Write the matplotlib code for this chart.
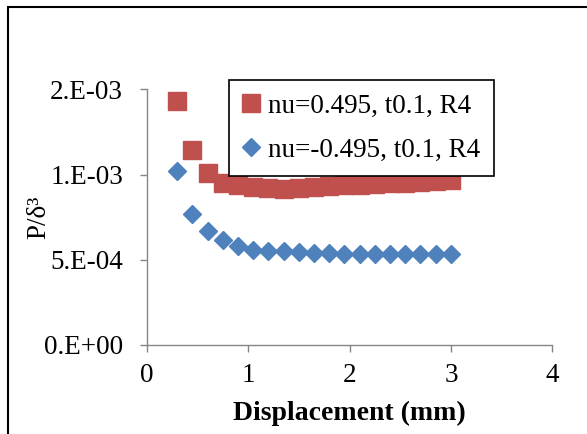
import matplotlib
matplotlib.use("Agg")
import matplotlib.pyplot as plt
from matplotlib.patches import Rectangle
from matplotlib.ticker import FuncFormatter

# displacement (mm) and P/delta^3
disp = [0.3, 0.45, 0.6, 0.75, 0.9, 1.05, 1.2, 1.35, 1.5, 1.65,
        1.8, 1.95, 2.1, 2.25, 2.4, 2.55, 2.7, 2.85, 3.0]
p_pos = [1.43e-3, 1.144e-3, 1.007e-3, 9.49e-4, 9.39e-4, 9.29e-4, 9.20e-4, 9.18e-4, 9.21e-4, 9.25e-4,
         9.30e-4, 9.36e-4, 9.40e-4, 9.44e-4, 9.48e-4, 9.52e-4, 9.56e-4, 9.61e-4, 9.65e-4]
p_neg = [1.022e-3, 7.68e-4, 6.71e-4, 6.16e-4, 5.81e-4, 5.58e-4, 5.54e-4, 5.49e-4, 5.44e-4, 5.41e-4,
         5.38e-4, 5.36e-4, 5.35e-4, 5.34e-4, 5.34e-4, 5.33e-4, 5.33e-4, 5.33e-4, 5.33e-4]
lab_pos = "nu=0.495, t0.1, R4"
lab_neg = "nu=-0.495, t0.1, R4"

W, H = 587, 434
FS = 19.5
plt.rcParams["font.family"] = ["Liberation Serif", "DejaVu Serif"]
fig = plt.figure(figsize=(W / 100, H / 100), dpi=100)
ax = fig.add_axes([146.7 / W, 1 - 345 / H, (552.3 - 146.7) / W, (345 - 89.3) / H])

ax.plot(disp, p_pos, ls="none", marker="s", ms=12.6, color="#C0504D", label=lab_pos)
ax.plot(disp, p_neg, ls="none", marker="D", ms=9.2, color="#4F81BD", label=lab_neg)

ax.set_xlim(0, 4)
ax.set_ylim(0, 1.5e-3)
ax.set_xticks([0, 1, 2, 3, 4])
ax.set_yticks([0, 5e-4, 1e-3, 1.5e-3])
ax.yaxis.set_major_formatter(FuncFormatter(lambda v, _: "{:#.0E}".format(v)))

grey = "#868686"
for s in ("top", "right"):
    ax.spines[s].set_visible(False)
for s in ("left", "bottom"):
    ax.spines[s].set_color(grey)
    ax.spines[s].set_linewidth(1.0)
ax.tick_params(axis="both", colors=grey, labelcolor="black", length=5, width=1.0,
               labelsize=FS, direction="out")
ax.tick_params(axis="y", pad=12)
ax.tick_params(axis="x", pad=8)

ax.set_xlabel("Displacement (mm)", fontsize=FS + 0.5, fontweight="bold", labelpad=9)
ax.set_ylabel("P/δ³", fontsize=FS, labelpad=-5)

leg = ax.legend(loc="upper left", bbox_to_anchor=(229 / W, 1 - 80 / H), bbox_transform=fig.transFigure,
                fancybox=False, framealpha=1, edgecolor="black", fontsize=FS,
                handlelength=0.6, handletextpad=0.35, borderpad=0.5, labelspacing=0.7,
                borderaxespad=0)
leg.get_frame().set_linewidth(1.2)

# outer chart border (cropped at right and bottom in the reference)
fig.patches.append(Rectangle((8 / W, -0.1), 1.2, 1 - 7 / H + 0.1, transform=fig.transFigure,
                             fill=False, edgecolor="black", linewidth=1.5, clip_on=False))

fig.savefig("out.png", dpi=100)
